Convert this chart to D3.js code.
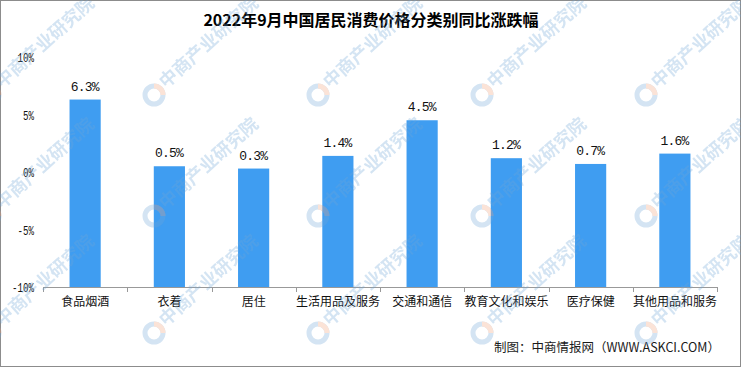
<!DOCTYPE html>
<html><head><meta charset="utf-8">
<script src="https://cdn.jsdelivr.net/npm/d3@7"></script>
<style>html,body{margin:0;padding:0;background:#fff;}svg{display:block;}</style>
</head><body>
<script>
const categories = ["食品烟酒","衣着","居住","生活用品及服务","交通和通信","教育文化和娱乐","医疗保健","其他用品和服务"];
const values = [6.3, 0.5, 0.3, 1.4, 4.5, 1.2, 0.7, 1.6];
const yTicks = [-10, -5, 0, 5, 10];
const title = "2022年9月中国居民消费价格分类别同比涨跌幅";
const source = "制图：中商情报网（WWW.ASKCI.COM）";

const W = 741, H = 367;
const svg = d3.select("body").append("svg").attr("width", W).attr("height", H);
svg.append("rect").attr("x",0.5).attr("y",0.5).attr("width",W-1).attr("height",H-1)
  .attr("fill","#fff").attr("stroke","#8c8c8c");

const x = d3.scaleBand().domain(categories).range([43, 717]).paddingInner(0.63).paddingOuter(0.315);
const y = d3.scaleLinear().domain([-10, 10]).range([287, 57]);

// watermark (behind-ish, semi transparent, drawn on top of bars later)
function watermark(layer){
  const cols = [-10, 154, 318, 482, 646];
  const rows = [95, 216, 333];
  rows.forEach(ry => cols.forEach(cx => {
    const g = layer.append("g").attr("transform", `translate(${cx},${ry})`);
    g.append("circle").attr("r",9).attr("fill","none").attr("stroke","#6fa6d6").attr("stroke-width",5);
    g.append("path").attr("d", d3.arc()({innerRadius:6.5, outerRadius:11.5, startAngle:0, endAngle:Math.PI/2})).attr("fill","#f0a07a");
    g.append("text").attr("transform","translate(12,-6) rotate(-42)").attr("font-family","'Noto Sans CJK SC'")
      .attr("font-weight","bold").attr("font-size",18).attr("fill","#6fa6d6").text("中商产业研究院");
  }));
}

svg.append("text").attr("x", 371).attr("y", 26).attr("text-anchor","middle")
  .attr("font-family","'Noto Sans CJK SC'").attr("font-weight","bold").attr("font-size",16)
  .attr("fill","#000").text(title);

// y labels
svg.append("g").selectAll("text").data(yTicks).join("text")
  .attr("x", 34).attr("y", d => y(d) + 5).attr("text-anchor","end")
  .attr("font-family","'Liberation Mono'").attr("font-size",13)
  .attr("textLength", d => (d + "%").length * 5.5).attr("lengthAdjust","spacingAndGlyphs")
  .attr("fill","#111").text(d => d + "%");

// bars
svg.append("g").selectAll("rect").data(values).join("rect")
  .attr("x", (d,i) => x(categories[i])).attr("width", x.bandwidth())
  .attr("y", d => y(d)).attr("height", d => y(-10) - y(d))
  .attr("fill","#3F9DF1");

// value labels
svg.append("g").selectAll("text").data(values).join("text")
  .attr("x", (d,i) => x(categories[i]) + x.bandwidth()/2).attr("y", d => y(d) - 9)
  .attr("text-anchor","middle").attr("font-family","'Liberation Mono'").attr("font-size",13)
  .attr("textLength", 29).attr("lengthAdjust","spacing")
  .attr("fill","#111").text(d => d.toFixed(1) + "%");

// x axis
const xAxis = d3.axisBottom(x).tickSize(0).tickPadding(10);
const gx = svg.append("g").attr("transform", `translate(0,${y(-10)})`).call(xAxis);
gx.select(".domain").attr("stroke","#999").attr("d","M43,0.5H717");
gx.selectAll("text").attr("font-family","'Noto Sans CJK SC'").attr("font-size",12).attr("fill","#111");
const bounds = d3.range(categories.length + 1).map(i => 43 + i * (674 / categories.length));
gx.selectAll(".bound").data(bounds).join("line").attr("class","bound")
  .attr("x1", d => Math.round(d)+0.5).attr("x2", d => Math.round(d)+0.5).attr("y1",0).attr("y2",5)
  .attr("stroke","#999");

svg.append("text").attr("x", 720).attr("y", 352).attr("text-anchor","end")
  .attr("font-family","'Noto Sans CJK SC'").attr("font-size",12.5).attr("fill","#1a1a1a").text(source);

watermark(svg.append("g").attr("opacity",0.3).attr("pointer-events","none"));
</script>
</body></html>
